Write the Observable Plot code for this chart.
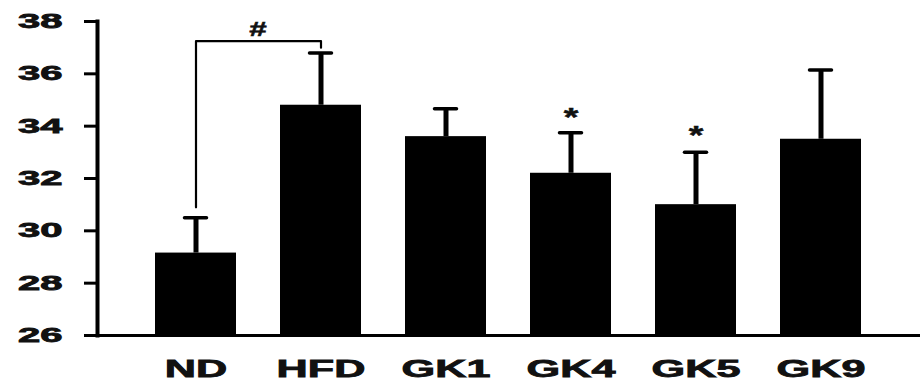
<!DOCTYPE html>
<html>
<head>
<meta charset="utf-8">
<script src="https://cdn.jsdelivr.net/npm/d3@7"></script>
<script src="https://cdn.jsdelivr.net/npm/@observablehq/plot@0.6"></script>
<style>
  html, body { margin: 0; padding: 0; background: #fff; }
  #chart svg { display: block; }
</style>
</head>
<body>
<div id="chart"></div>
<script>
const groups = ["ND", "HFD", "GK1", "GK4", "GK5", "GK9"];
const means  = [29.15, 34.8, 33.6, 32.2, 31.0, 33.5];
const errors = [1.35, 2.0, 1.07, 1.55, 2.0, 2.65];
const yTicks = [26, 28, 30, 32, 34, 36, 38];
const starGroups = ["GK4", "GK5"];
const starValues = [34.5, 33.8];
const bracketPoints = [["ND", 30.9], ["ND", 37.25], ["HFD", 37.25], ["HFD", 37.0]];
const hashLabel = "#";
const hashValue = 37.72;

const data = groups.map((g, i) => ({group: g, mean: means[i], top: means[i] + errors[i]}));
const stars = starGroups.map((g, i) => ({group: g, y: starValues[i]}));
const bracket = bracketPoints.map(([g, v]) => ({group: g, y: v}));

const plot = Plot.plot({
  width: 920,
  height: 384,
  marginLeft: 97,
  marginRight: 0,
  marginTop: 21,
  marginBottom: 49,
  style: {fontFamily: "'Liberation Sans', Arial, sans-serif", fontWeight: "bold", color: "#111", background: "#fff"},
  x: {domain: groups, paddingInner: 0.35, paddingOuter: 0.445, label: null},
  y: {domain: [26, 38], label: null},
  marks: [
    Plot.ruleX(data, {x: "group", y1: "mean", y2: "top", stroke: "#000", strokeWidth: 5}),
    Plot.tickY(data, {x: "group", y: "top", stroke: "#000", strokeWidth: 3.5, insetLeft: 29.5, insetRight: 29.5, strokeLinecap: "round"}),
    Plot.barY(data, {x: "group", y1: 26, y2: "mean", fill: "#000"}),
    Plot.line(bracket, {x: "group", y: "y", stroke: "#000", strokeWidth: 2.2}),
    Plot.text([hashLabel], {x: () => "ND", y: () => hashValue, text: d => d, dx: 62, fontSize: 21, fill: "#111", fontWeight: "bold"}),
    Plot.text(stars, {x: "group", y: "y", text: () => "*", fontSize: 25, fill: "#111", fontWeight: "bold", dy: 5}),
    Plot.ruleY([26], {stroke: "#000", strokeWidth: 3}),
    Plot.frame({anchor: "left", stroke: "#000", strokeWidth: 4}),
    Plot.axisY({ticks: yTicks, tickSize: 13, tickPadding: 22, tickFormat: d => String(d), stroke: "#000", strokeWidth: 3, fontSize: 20, fill: "#111", label: null}),
    Plot.axisX({tickSize: 0, tickPadding: 24, fontSize: 24, fill: "#111", label: null})
  ]
});

// widen and thicken axis lettering to match the stretched reference typography
function widen(sel, sx, sw) {
  d3.select(plot).selectAll(sel).each(function() {
    const t = this.getAttribute("transform") || "";
    this.setAttribute("transform", t + ` scale(${sx},1)`);
    this.style.stroke = "#111";
    this.style.strokeWidth = sw;
    this.style.paintOrder = "stroke";
  });
}
widen("g[aria-label='y-axis tick label'] text", 2, 0.8);
widen("g[aria-label='x-axis tick label'] text", 1.8, 0.8);
widen("g[aria-label='text'] text", 1.5, 0.5);

document.getElementById("chart").appendChild(plot);
</script>
</body>
</html>
